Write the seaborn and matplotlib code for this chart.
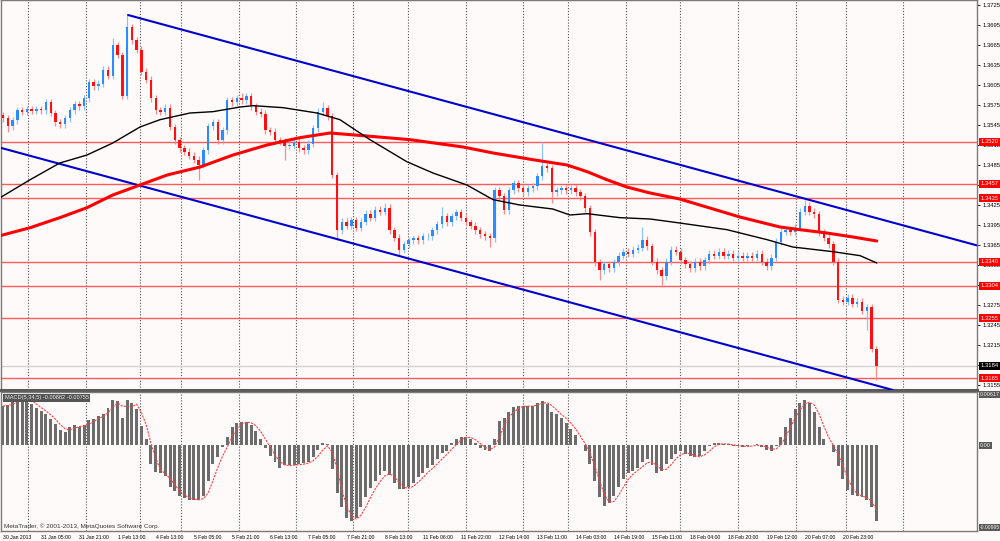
import numpy as np
import pandas as pd
import matplotlib
matplotlib.use("Agg")
import matplotlib.pyplot as plt
import matplotlib.transforms as mtrans
from matplotlib import font_manager
import seaborn as sns

# ---------------- data ----------------
closes = [
    1.3555, 1.3543, 1.3552, 1.3567, 1.3565, 1.3569, 1.3566, 1.3569, 1.3567, 1.3579,
    1.3563, 1.3549, 1.3546, 1.3555, 1.3567, 1.3576, 1.3573, 1.3585, 1.3609, 1.3603,
    1.3607, 1.3628, 1.3619, 1.3665, 1.3650, 1.3589, 1.3692, 1.3672, 1.3658, 1.3625,
    1.3613, 1.3585, 1.3567, 1.3565, 1.3571, 1.3542, 1.3522, 1.3510, 1.3505, 1.3499,
    1.3493, 1.3485, 1.3507, 1.3543, 1.3549, 1.3522, 1.3537, 1.3582, 1.3579, 1.3585,
    1.3582, 1.3588, 1.3573, 1.3565, 1.3562, 1.3537, 1.3535, 1.3522, 1.3520, 1.3514,
    1.3514, 1.3520, 1.3510, 1.3507, 1.3517, 1.3540, 1.3565, 1.3570, 1.3558, 1.3470,
    1.3387, 1.3400, 1.3394, 1.3402, 1.3391, 1.3400, 1.3412, 1.3406, 1.3418, 1.3415,
    1.3421, 1.3387, 1.3376, 1.3358, 1.3366, 1.3372, 1.3375, 1.3372, 1.3378, 1.3378,
    1.3387, 1.3396, 1.3408, 1.3399, 1.3408, 1.3414, 1.3406, 1.3399, 1.3394, 1.3387,
    1.3381, 1.3378, 1.3375, 1.3447, 1.3438, 1.3417, 1.3447, 1.3458, 1.3450, 1.3444,
    1.3450, 1.3453, 1.3468, 1.3483, 1.3480, 1.3444, 1.3447, 1.3450, 1.3447, 1.3450,
    1.3444, 1.3438, 1.3420, 1.3384, 1.3339, 1.3327, 1.3336, 1.3330, 1.3339, 1.3349,
    1.3355, 1.3352, 1.3358, 1.3361, 1.3373, 1.3363, 1.3340, 1.3327, 1.3318, 1.3340,
    1.3358, 1.3355, 1.3342, 1.3336, 1.3330, 1.3340, 1.3333, 1.3342, 1.3352, 1.3349,
    1.3355, 1.3349, 1.3352, 1.3346, 1.3349, 1.3346, 1.3349, 1.3346, 1.3352, 1.3340,
    1.3333, 1.3346, 1.3370, 1.3385, 1.3387, 1.3385, 1.3391, 1.3415, 1.3424, 1.3415,
    1.3411, 1.3384, 1.3376, 1.3366, 1.3340, 1.3283, 1.3280, 1.3286, 1.3277, 1.3280,
    1.3266, 1.3272, 1.3209, 1.3184,
]
first_open = 1.3560
spike_highs = {1: 1.3560, 23: 1.3676, 26: 1.3710, 50: 1.3593, 67: 1.3580, 80: 1.3428,
               92: 1.3422, 113: 1.3520, 134: 1.3392, 168: 1.3433}
spike_lows = {1: 1.3535, 41: 1.3463, 59: 1.3493, 70: 1.3373, 83: 1.3350, 102: 1.3362,
              115: 1.3428, 125: 1.3312, 138: 1.3302, 181: 1.3238, 183: 1.3162}
wick = 0.0005

macd = [
    0.00454, 0.00465, 0.00500, 0.00560, 0.00570, 0.00520, 0.00477, 0.00430, 0.00400, 0.00360,
    0.00300, 0.00244, 0.00175, 0.00150, 0.00210, 0.00230, 0.00210, 0.00230, 0.00290, 0.00300,
    0.00340, 0.00360, 0.00430, 0.00530, 0.00510, 0.00320, 0.00520, 0.00490, 0.00420, 0.00220,
    0.00070, -0.00220, -0.00310, -0.00320, -0.00360, -0.00480, -0.00530, -0.00590, -0.00610, -0.00630,
    -0.00630, -0.00640, -0.00590, -0.00420, -0.00220, -0.00140, -0.00020, 0.00100, 0.00210, 0.00260,
    0.00270, 0.00270, 0.00240, 0.00170, 0.00070, -0.00030, -0.00120, -0.00190, -0.00260, -0.00230,
    -0.00230, -0.00230, -0.00220, -0.00210, -0.00190, -0.00140, -0.00050, 0.00020, 0.00010, -0.00280,
    -0.00550, -0.00720, -0.00850, -0.00880, -0.00840, -0.00720, -0.00600, -0.00500, -0.00420, -0.00350,
    -0.00300, -0.00350, -0.00440, -0.00510, -0.00510, -0.00480, -0.00440, -0.00370, -0.00320, -0.00260,
    -0.00230, -0.00160, -0.00090, -0.00070, 0.00020, 0.00070, 0.00100, 0.00100, 0.00070, 0.00020,
    -0.00030, -0.00060, -0.00070, 0.00070, 0.00280, 0.00320, 0.00380, 0.00440, 0.00460, 0.00450,
    0.00450, 0.00460, 0.00490, 0.00510, 0.00480, 0.00390, 0.00360, 0.00320, 0.00260, 0.00190,
    0.00120, 0.00000, -0.00070, -0.00220, -0.00420, -0.00600, -0.00700, -0.00670, -0.00590, -0.00480,
    -0.00390, -0.00320, -0.00300, -0.00260, -0.00190, -0.00160, -0.00230, -0.00320, -0.00300, -0.00220,
    -0.00160, -0.00100, -0.00070, -0.00100, -0.00130, -0.00140, -0.00130, -0.00070, -0.00010, 0.00020,
    0.00020, 0.00010, 0.00010, -0.00010, -0.00010, -0.00020, -0.00010, 0.00000, 0.00010, -0.00020,
    -0.00050, -0.00070, -0.00010, 0.00090, 0.00210, 0.00320, 0.00420, 0.00490, 0.00520, 0.00490,
    0.00390, 0.00210, 0.00070, 0.00000, -0.00080, -0.00240, -0.00390, -0.00520, -0.00580, -0.00590,
    -0.00600, -0.00630, -0.00720, -0.00882,
]

# moving averages (bar position, price)
ma_fast_x = [-0.6, 5.7, 11.9, 17.6, 23.0, 28.7, 32.9, 39.2, 44.0, 49.7, 52.4, 58.7, 65.8,
             70.6, 76.9, 84.6, 90.1, 97.2, 102.7, 108.3, 115.2, 118.8, 122.4, 129.3, 135.6,
             141.8, 151.7, 160.1, 165.5, 173.9, 179.6, 183.1]
ma_fast_y = [1.3436, 1.3463, 1.3488, 1.3500, 1.3518, 1.3542, 1.3553, 1.3563, 1.3565, 1.3572,
             1.3574, 1.3571, 1.3563, 1.3553, 1.3523, 1.3490, 1.3473, 1.3455, 1.3433, 1.3425,
             1.3419, 1.3410, 1.3412, 1.3406, 1.3404, 1.3398, 1.3388, 1.3373, 1.3362, 1.3355,
             1.3349, 1.3338]
ma_slow_x = [-0.6, 5.7, 11.9, 17.6, 23.0, 28.7, 34.4, 41.3, 48.2, 55.3, 62.2, 68.5, 75.4,
             85.3, 96.4, 102.7, 111.0, 118.2, 122.4, 126.5, 130.7, 135.6, 141.8, 154.4, 162.8,
             167.0, 172.6, 178.1, 183.1]
ma_slow_y = [1.3379, 1.3391, 1.3406, 1.3421, 1.3440, 1.3455, 1.3470, 1.3482, 1.3500, 1.3515,
             1.3526, 1.3533, 1.3529, 1.3523, 1.3512, 1.3503, 1.3493, 1.3485, 1.3475, 1.3463,
             1.3452, 1.3443, 1.3434, 1.3407, 1.3392, 1.3388, 1.3383, 1.3377, 1.3371]

channel_upper = ([26.2, 204.3], [1.3710, 1.3364])
channel_lower = ((-0.6, 1.3511), (185.2, 1.3150))

level_prices = [1.3520, 1.3457, 1.3435, 1.3340, 1.3304, 1.3255, 1.3165]
level_labels = ["1.3520", "1.3457", "1.3435", "1.3340", "1.3304", "1.3255", "1.3165"]
last_price = 1.3184
last_label = "1.3184"

price_ticks = [1.3725, 1.3695, 1.3665, 1.3635, 1.3605, 1.3575, 1.3545, 1.3515, 1.3485,
               1.3455, 1.3425, 1.3395, 1.3365, 1.3335, 1.3305, 1.3275, 1.3245, 1.3215,
               1.3185, 1.3155]
price_tick_labels = ["1.3725", "1.3695", "1.3665", "1.3635", "1.3605", "1.3575", "1.3545",
                     "1.3515", "1.3485", "1.3455", "1.3425", "1.3395", "1.3365", "1.3335",
                     "1.3305", "1.3275", "1.3245", "1.3215", "1.3185", "1.3155"]

time_labels = ["30 Jan 2013", "31 Jan 05:00", "31 Jan 21:00", "1 Feb 13:00", "4 Feb 13:00",
               "5 Feb 05:00", "5 Feb 21:00", "6 Feb 13:00", "7 Feb 05:00", "7 Feb 21:00",
               "8 Feb 13:00", "11 Feb 06:00", "11 Feb 22:00", "12 Feb 14:00", "13 Feb 11:00",
               "14 Feb 03:00", "14 Feb 19:00", "15 Feb 11:00", "18 Feb 04:00", "18 Feb 20:00",
               "19 Feb 12:00", "20 Feb 07:00", "20 Feb 23:00"]
label_every = 8
grid_bars = [5.2, 17.4, 28.7, 37.3, 49.4, 61.4, 73.3, 84.9, 97.0, 109.0, 118.4, 130.5,
             141.8, 154.0, 166.2, 176.6, 188.6]

macd_title = "MACD(5,34,5) -0.00882 -0.00755"
macd_max_label, macd_zero_label, macd_min_label = "0.00617", "0.00", "-0.00995"
macd_max, macd_min = 0.00617, -0.00995
copyright_text = "MetaTrader, \u00a9 2001-2013, MetaQuotes Software Corp."

# ---------------- style ----------------
BG = "#FFFAFA"
sns.set_style("white")
plt.rcParams["font.family"] = ["Liberation Sans", "DejaVu Sans"]
FS = 4.2
installed = {f.name for f in font_manager.fontManager.ttflist}
if "Liberation Sans Narrow" in installed:
    xfam, xfs = ["Liberation Sans Narrow", "DejaVu Sans"], 4.3
else:
    xfam, xfs = ["Liberation Sans", "DejaVu Sans"], 3.7

N = len(closes)
x = np.arange(N)
c = np.array(closes)
o = np.array([first_open] + closes[:-1])
hi = np.maximum(o, c) + wick
lo = np.minimum(o, c) - wick
for k, v in spike_highs.items():
    hi[k] = max(v, max(o[k], c[k]))
for k, v in spike_lows.items():
    lo[k] = min(v, min(o[k], c[k]))
up = c >= o

fig = plt.figure(figsize=(10, 5.41), dpi=100, facecolor=BG)
ax = fig.add_axes([0.001, 1 - 390 / 541, 0.976, 390 / 541])
ax2 = fig.add_axes([0.001, 10 / 541, 0.976, 139 / 541])
for a in (ax, ax2):
    a.set_facecolor(BG)
    a.set_xlim(-0.42, 204.1)
    for s in a.spines.values():
        s.set_color("#7a7a7a")
        s.set_linewidth(1.0)
    for g in grid_bars:
        a.axvline(g, color="#505050", lw=0.8, ls=(0, (1, 1.6)), zorder=1)
ax.spines["bottom"].set_linewidth(2.2)
ax.spines["bottom"].set_color("#5a5a5a")

ax.set_ylim(1.31475, 1.37325)

# horizontal levels
for p in level_prices:
    ax.axhline(p, color="#FF5a5a", lw=1.0, zorder=2)
ax.axhline(last_price, color="#d2d2d2", lw=1.0, zorder=2)

# channel
ax.plot(channel_upper[0], channel_upper[1], color="#0000CD", lw=1.5, zorder=5)
ax.axline(channel_lower[0], channel_lower[1], color="#0000CD", lw=1.5, zorder=5)

# candles
ax.vlines(x[up], lo[up], hi[up], color="#8cc3ff", lw=0.9, zorder=3)
ax.vlines(x[~up], lo[~up], hi[~up], color="#ff8a8a", lw=0.9, zorder=3)
ax.bar(x[up], np.maximum(c - o, 0.00006)[up], bottom=o[up], width=0.5,
       color="#2b8cff", linewidth=0, zorder=4)
ax.bar(x[~up], (o - c)[~up], bottom=c[~up], width=0.5,
       color="#ff1010", linewidth=0, zorder=4)

# moving averages
sns.lineplot(x=ma_slow_x, y=ma_slow_y, ax=ax, color="#FF0000", lw=2.2, sort=False,
             estimator=None, zorder=6)
sns.lineplot(x=ma_fast_x, y=ma_fast_y, ax=ax, color="#000000", lw=1.0, sort=False,
             estimator=None, zorder=6)

# price axis on the right
ax.yaxis.tick_right()
ax.set_yticks(price_ticks)
ax.set_yticklabels(price_tick_labels, fontsize=FS)
ax.tick_params(axis="y", length=2.5, width=0.6, pad=1.2, colors="black")
ax.set_xticks([])
ax.set_xlabel("")
ax.set_ylabel("")

trans = mtrans.blended_transform_factory(ax.transAxes, ax.transData)
for p, lab in zip(level_prices, level_labels):
    ax.text(1.0035, p, lab, transform=trans, ha="left", va="center", fontsize=FS,
            color="white", clip_on=False, zorder=20,
            bbox=dict(boxstyle="square,pad=0.28", fc="#FF0000", ec="none"))
ax.text(1.0035, last_price, last_label, transform=trans, ha="left", va="center", fontsize=FS,
        color="white", clip_on=False, zorder=20,
        bbox=dict(boxstyle="square,pad=0.28", fc="#000000", ec="none"))

# MACD
ax2.set_ylim(macd_min, macd_max)
ax2.bar(x, macd, width=0.62, color="#6c6c6c", linewidth=0, zorder=3)
signal = pd.Series(macd).rolling(3, min_periods=1).mean()
sns.lineplot(x=x, y=signal.values, ax=ax2, color="#FF4040", lw=0.8, ls=(0, (2, 1)),
             zorder=4)
ax2.set_yticks([])
ax2.set_ylabel("")
ax2.set_xticks(list(range(0, N, label_every))[:len(time_labels)])
ax2.set_xticklabels(time_labels, fontsize=xfs, ha="left", family=xfam)
ax2.tick_params(axis="x", length=2, width=0.6, pad=1, colors="black")

trans2 = mtrans.blended_transform_factory(ax2.transAxes, ax2.transData)
box = dict(boxstyle="square,pad=0.22", fc="#5a5a5a", ec="none")
ax2.text(1.003, macd_max, macd_max_label, transform=trans2, ha="left", va="top",
         fontsize=3.9, color="#eeeeee", clip_on=False, bbox=box)
ax2.text(1.003, 0.0, macd_zero_label, transform=trans2, ha="left", va="center",
         fontsize=3.9, color="#eeeeee", clip_on=False, bbox=box)
ax2.text(1.003, macd_min * 0.985, macd_min_label, transform=trans2, ha="left", va="bottom",
         fontsize=3.6, color="#eeeeee", clip_on=False, bbox=box)
ax2.text(0.004, 0.975, macd_title, transform=ax2.transAxes, ha="left", va="top",
         fontsize=4.1, color="#e8e8e8", zorder=10,
         bbox=dict(boxstyle="square,pad=0.25", fc="#555555", ec="none"))
ax2.text(0.003, 0.015, copyright_text, transform=ax2.transAxes, ha="left", va="bottom",
         fontsize=4.6, color="#303030", zorder=10)

fig.savefig("out.png", dpi=100, facecolor=BG)
